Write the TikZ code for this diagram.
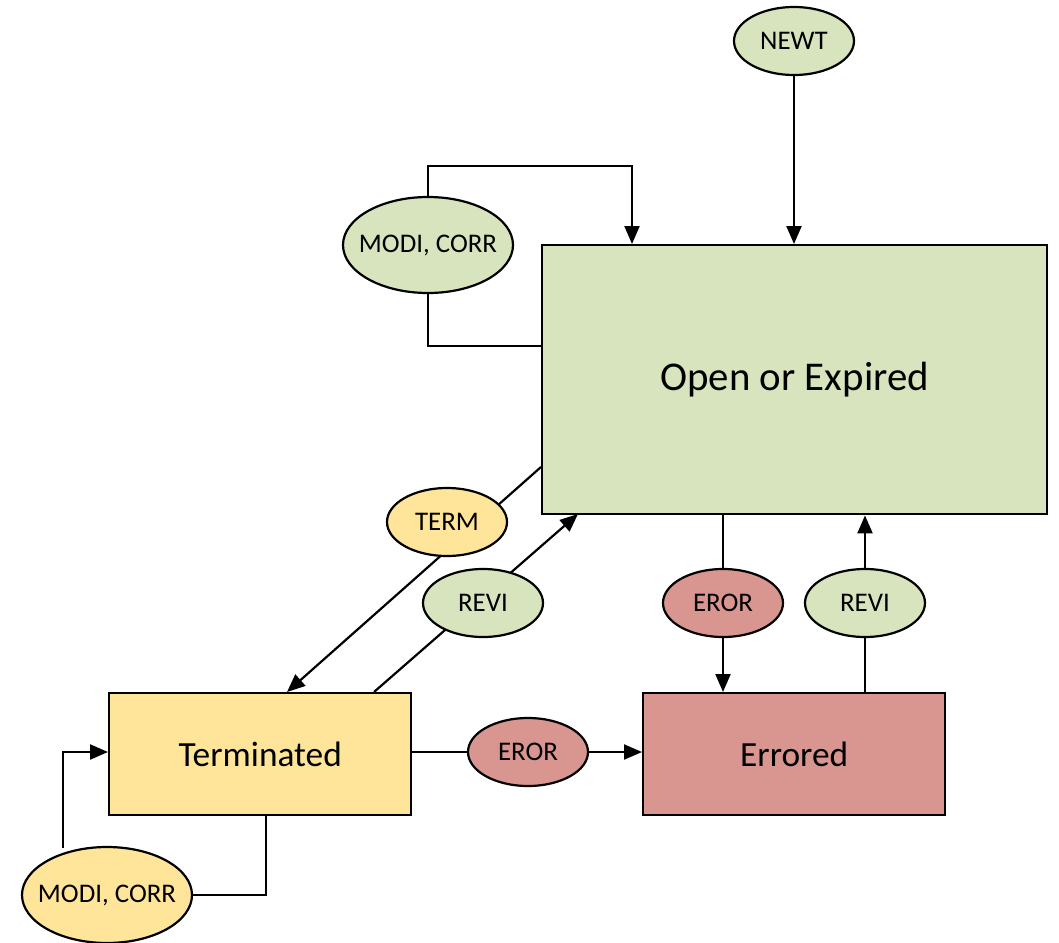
\documentclass[tikz,border=0pt]{standalone}
\usepackage{fontspec}
\setmainfont{Carlito}
\usetikzlibrary{arrows.meta,shapes.geometric}
\definecolor{cgreen}{HTML}{D7E4BD}
\definecolor{cyellow}{HTML}{FFE599}
\definecolor{cred}{HTML}{D9958F}
\tikzset{
  statebox/.style={draw=black, line width=2.4bp, rectangle, inner sep=0pt, anchor=north west},
  evt/.style={draw=black, line width=2.2bp, ellipse, inner sep=0pt, minimum width=120bp, minimum height=68bp, font=\fontsize{27}{32}\selectfont},
  bigevt/.style={evt, minimum width=170bp, minimum height=96bp},
  conn/.style={draw=black, line width=2.2bp},
  arr/.style={conn, -{Triangle[length=18bp,width=15bp]}}
}
\begin{document}
\begin{tikzpicture}[x=1bp,y=-1bp]
\useasboundingbox (0,0) rectangle (1059,943);
% state boxes
\node[statebox, fill=cgreen, minimum width=505bp, minimum height=269bp] (open) at (541,244) {};
\node[font=\fontsize{41}{48}\selectfont] at (open.center) {Open or Expired};
\node[statebox, fill=cyellow, minimum width=302bp, minimum height=122bp] (term) at (108,692) {};
\node[font=\fontsize{35.5}{42}\selectfont] at (term.center) {Terminated};
\node[statebox, fill=cred, minimum width=302bp, minimum height=122bp] (err) at (642,692) {};
\node[font=\fontsize{35.5}{42}\selectfont] at (err.center) {Errored};

% helper coordinates
\coordinate (tA) at (541,467);
\coordinate (tB) at (287,692);
\coordinate (rA) at (374,692);
\coordinate (rB) at (578,514);
\coordinate (tl) at (410,752);

% diagonal connectors (behind ellipses)
\draw[arr] (tA) -- (tB);
\draw[arr] (rA) -- (rB);

% event ellipses
\node[evt, fill=cgreen] (newt) at (794,41) {NEWT};
\node[bigevt, fill=cgreen] (modiA) at (428,245) {\makebox[0pt]{MODI, CORR}};
\node[evt, fill=cyellow] (termE) at (447,522) {TERM};
\node[evt, fill=cgreen] (reviA) at (483,603) {REVI};
\node[evt, fill=cred] (erorA) at (723,603) {EROR};
\node[evt, fill=cgreen] (reviB) at (865,603) {REVI};
\node[evt, fill=cred] (erorB) at (528,752) {EROR};
\node[bigevt, fill=cyellow] (modiB) at (107,895) {\makebox[0pt]{MODI, CORR}};

% connectors
\draw[arr] (newt.south) -- (794,244);
\draw[arr] (modiA.north) |- (632,166) -- (632,244);
\draw[conn] (modiA.south) |- (541,346);
\draw[conn] (open.south -| erorA) -- (erorA.north);
\draw[arr] (erorA.south) -- (err.north -| erorA);
\draw[conn] (err.north -| reviB) -- (reviB.south);
\draw[arr] (reviB.north) -- (open.south -| reviB);
\draw[conn] (tl) -- (erorB.west);
\draw[arr] (erorB.east) -- (err.west |- erorB);
\draw[arr] (63,848) |- (term.west |- tl);
\draw[conn] (modiB.east) -| (266,814);
\end{tikzpicture}
\end{document}
